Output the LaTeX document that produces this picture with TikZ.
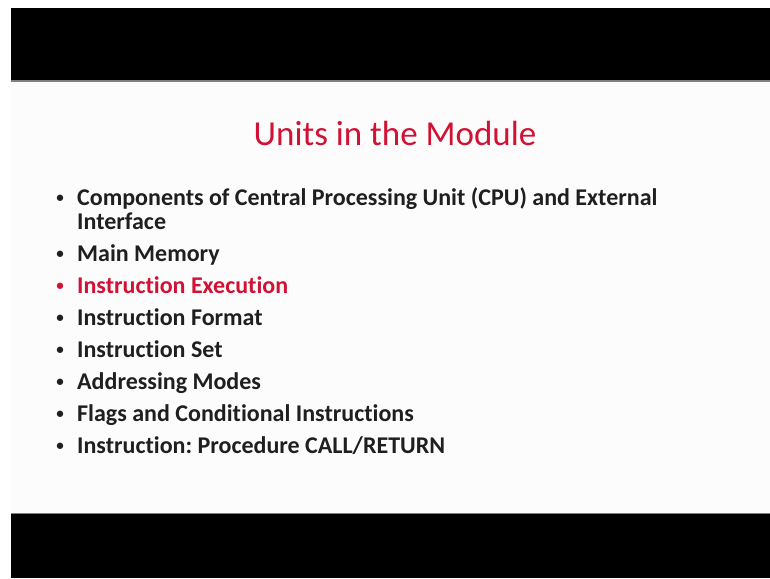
\documentclass[tikz,border=0pt]{standalone}
\usepackage{fontspec}
\setmainfont{Carlito}[Ligatures=NoCommon]
\frenchspacing
\definecolor{slidered}{RGB}{208,18,52}
\definecolor{slidebg}{RGB}{252,252,252}
\definecolor{bandgray}{RGB}{128,128,128}
\begin{document}
\begin{tikzpicture}[x=1pt,y=-1pt,
  itemtext/.style={anchor=base west,inner sep=0pt,font=\fontsize{24}{28}\selectfont\bfseries,text=black!88},
  bul/.style={anchor=base,inner sep=0pt,font=\fontsize{15}{18}\selectfont\bfseries,text=black!88},
  titletext/.style={anchor=base,inner sep=0pt,font=\fontsize{35}{40}\selectfont,text=slidered}]
\useasboundingbox (0,0) rectangle (770,578);
\fill[white] (0,0) rectangle (770,578);
\fill[black] (11,8) rectangle (770,80);
\fill[bandgray] (11,80) rectangle (770,81.5);
\fill[slidebg] (11,81.5) rectangle (770,512.5);
\fill[bandgray] (11,512.5) rectangle (770,514);
\fill[black] (11,514) rectangle (770,578);
\node[titletext] (title) at (395,145) {Units in the Module};
\node[bul] (b1) at (60,202) {•};
\node[itemtext] (i1a) at (77,205) {Components of Central Processing Unit (CPU) and External};
\node[itemtext] (i1b) at (77,229) {Interface};
\node[bul] (b2) at (60,258) {•};
\node[itemtext] (i2) at (77,261) {Main Memory};
\node[bul,text=slidered] (b3) at (60,290) {•};
\node[itemtext,text=slidered] (i3) at (77,293) {Instruction Execution};
\node[bul] (b4) at (60,322) {•};
\node[itemtext] (i4) at (77,325) {Instruction Format};
\node[bul] (b5) at (60,354) {•};
\node[itemtext] (i5) at (77,357) {Instruction Set};
\node[bul] (b6) at (60,386) {•};
\node[itemtext] (i6) at (77,389) {Addressing Modes};
\node[bul] (b7) at (60,418) {•};
\node[itemtext] (i7) at (77,421) {Flags and Conditional Instructions};
\node[bul] (b8) at (60,450) {•};
\node[itemtext] (i8) at (77,453) {Instruction: Procedure CALL/RETURN};
\end{tikzpicture}
\end{document}
